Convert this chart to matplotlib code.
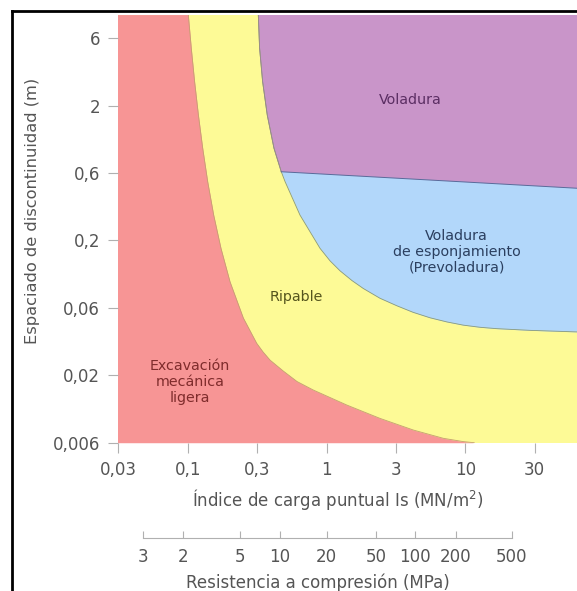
import matplotlib.pyplot as plt
from matplotlib.lines import Line2D

# tick positions (equal half-decade spacing) and their printed labels
x_ticks = [0.03, 0.095, 0.3, 0.95, 3, 9.5, 30]
x_labels = ["0,03", "0,1", "0,3", "1", "3", "10", "30"]
y_ticks = [0.006, 0.019, 0.06, 0.19, 0.6, 1.9, 6]
y_labels = ["0,006", "0,02", "0,06", "0,2", "0,6", "2", "6"]

# compressive strength scale, placed at the matching Is value
mpa_labels = ["3", "2", "5", "10", "20", "50", "100", "200", "500"]
mpa_at_is = [0.0454, 0.0882, 0.226, 0.439, 0.952, 2.16, 4.12, 8.13, 20.5]

# boundary: excavacion / ripable
red_x = [0.0958, 0.1007, 0.1064, 0.1133, 0.1217, 0.1322, 0.146, 0.1648, 0.1914, 0.2388,
         0.298, 0.331, 0.372, 0.4635, 0.582, 0.762, 1.326, 2.30, 4.01, 6.59, 9.13, 11.0]
red_y = [9.0, 5.06, 2.86, 1.619, 0.917, 0.518, 0.293, 0.166, 0.0939, 0.0505,
         0.0328, 0.0283, 0.0246, 0.0204, 0.01706, 0.01476, 0.01143, 0.0091, 0.00745, 0.00647,
         0.00612, 0.0060]

# boundary: ripable / voladura
out_x = [0.306, 0.3127, 0.3288, 0.355, 0.397, 0.448, 0.4774, 0.611, 0.852, 1.005,
         1.187, 1.448, 1.747, 2.30, 3.04, 3.98, 5.28, 7.00, 9.18, 12.1,
         15.97, 27.7, 61.0]
out_y = [9.0, 5.06, 2.86, 1.619, 0.917, 0.614, 0.518, 0.293, 0.166, 0.1342,
         0.1131, 0.0957, 0.0836, 0.0708, 0.0623, 0.0557, 0.0507, 0.0472, 0.0447, 0.0431,
         0.0421, 0.0409, 0.0398]

# boundary: voladura / voladura de esponjamiento
split_x = [0.448, 5.28, 61.0]
split_y = [0.614, 0.533, 0.463]

RED = "#f79595"
YELLOW = "#fdfa96"
PURPLE = "#c995c9"
BLUE = "#b2d7fa"

fig = plt.figure(figsize=(5.77, 5.91), dpi=100)
ax = fig.add_axes([0.205, 0.2509, 0.795, 0.7237])
ax.set_xscale("log")
ax.set_yscale("log")
ax.set_xlim(0.03, 60.5)
ax.set_ylim(0.006, 8.93)
ax.set_facecolor(YELLOW)

ax.fill_betweenx(red_y, 0.01, red_x, color=RED, lw=0)
ax.plot(red_x, red_y, color="#c4a070", lw=0.6)

ax.fill_betweenx(out_y, out_x, 100, color=BLUE, lw=0)
ax.plot(out_x, out_y, color="#8a9a7a", lw=0.6)

n_top = out_y.index(split_y[0])
purple_x = out_x[:n_top + 1] + split_x[1:] + [100, 100, out_x[0]]
purple_y = out_y[:n_top + 1] + split_y[1:] + [split_y[-1], 20, 20]
ax.fill(purple_x, purple_y, color=PURPLE, lw=0)
ax.plot(out_x[:n_top + 1], out_y[:n_top + 1], color="#9a8a8a", lw=0.6)
ax.plot(split_x, split_y, color="#5a6a9a", lw=0.7)

ax.text(3.79, 2.09, "Voladura", ha="center", va="center", fontsize=10.3, color="#5b2e63")
ax.text(8.22, 0.156, "Voladura\nde esponjamiento\n(Prevoladura)", ha="center", va="center",
        fontsize=10.3, color="#2b3f5f", linespacing=1.15)
ax.text(0.579, 0.0727, "Ripable", ha="center", va="center", fontsize=10.3, color="#55551e")
ax.text(0.0986, 0.0169, "Excavación\nmecánica\nligera", ha="center", va="center",
        fontsize=10.3, color="#7f2c2c", linespacing=1.15)

for side in ["top", "right", "left", "bottom"]:
    ax.spines[side].set_visible(False)
ax.minorticks_off()
ax.set_xticks(x_ticks, x_labels)
ax.set_yticks(y_ticks, y_labels)
ax.tick_params(length=7, width=0.8, color="#b0b0b0", labelcolor="#555555",
               labelsize=12, pad=6)

fig.text(33 / 577, 1 - 210.5 / 591, "Espaciado de discontinuidad (m)", rotation=90,
         ha="center", va="center", fontsize=11.7, color="#555555")
fig.text(337.5 / 577, 1 - 499 / 591, "Índice de carga puntual Is (MN/m$^2$)",
         ha="center", va="center", fontsize=12, color="#555555")

# second scale below
ax2 = fig.add_axes([0.205, 1 - 538 / 591, 0.795, 0.0001])
ax2.set_xscale("log")
ax2.set_xlim(0.03, 60.5)
ax2.patch.set_visible(False)
for side in ["top", "right", "left"]:
    ax2.spines[side].set_visible(False)
ax2.spines["bottom"].set_bounds(mpa_at_is[0], mpa_at_is[-1])
ax2.spines["bottom"].set_color("#b0b0b0")
ax2.spines["bottom"].set_linewidth(0.8)
ax2.minorticks_off()
ax2.set_yticks([])
ax2.set_xticks(mpa_at_is, mpa_labels)
ax2.tick_params(axis="x", direction="in", length=5, width=0.8, color="#b0b0b0",
                labelcolor="#555555", labelsize=12, pad=7)
fig.text(317.5 / 577, 1 - 583 / 591, "Resistencia a compresión (MPa)",
         ha="center", va="center", fontsize=12, color="#555555")

# black frame of the screenshot
fig.add_artist(Line2D([12 / 577, 12 / 577], [0, 1 - 10.5 / 591], transform=fig.transFigure,
                      color="black", lw=2))
fig.add_artist(Line2D([12 / 577, 1], [1 - 10.5 / 591, 1 - 10.5 / 591], transform=fig.transFigure,
                      color="black", lw=2))

fig.savefig("out.png", dpi=100)
